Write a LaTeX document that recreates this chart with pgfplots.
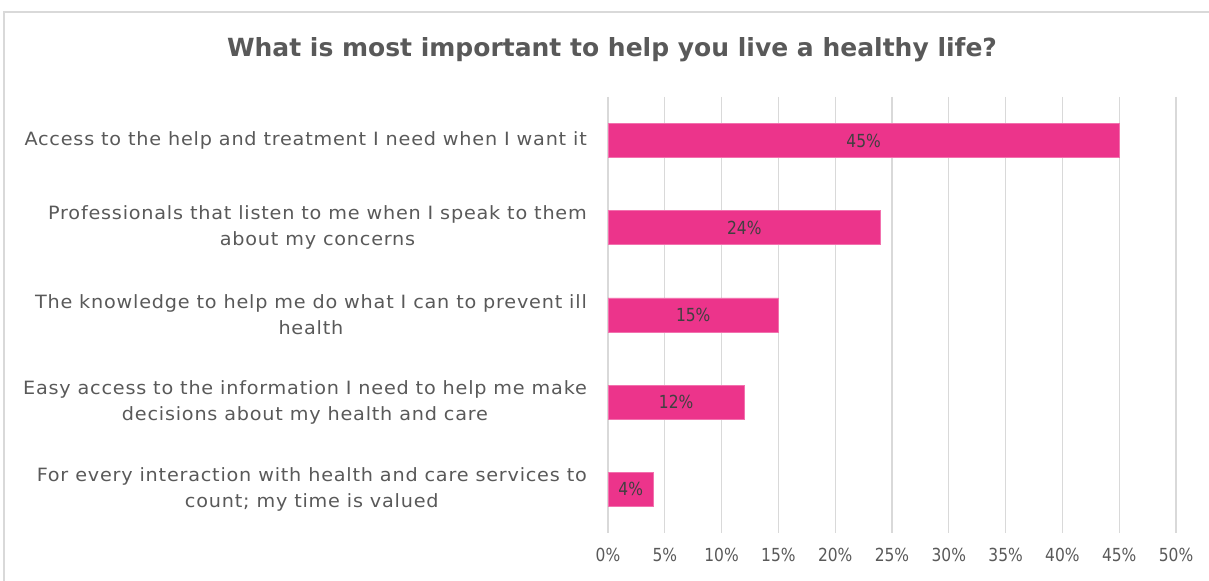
\documentclass[border=0pt]{standalone}
\usepackage{pgfplots}
\usepackage{pgfplotstable}
\pgfplotsset{compat=1.18}
\usepackage{fontspec}
\setmainfont{DejaVu Sans}
\newfontfamily\labelfont[LetterSpace=4.3,FakeStretch=1.05]{DejaVu Sans}
\newfontfamily\tickfont[FakeStretch=0.86]{DejaVu Sans}
\definecolor{barpink}{RGB}{236,52,139}
\definecolor{txtgray}{RGB}{89,89,89}
\definecolor{valgray}{RGB}{64,64,64}
\definecolor{gridgray}{RGB}{217,217,217}
\pgfplotstableread{
y v
0 45
1 24
2 15
3 12
4 4
}\datatable
\begin{document}
\begin{tikzpicture}[x=1bp,y=1bp]
\path[use as bounding box] (0,0) rectangle (1209,581);
\draw[gridgray, line width=1.5bp] (4,0) -- (4,569) -- (1209,569);
\node[txtgray, font=\fontsize{25bp}{29bp}\selectfont\bfseries] at (612,531) {What is most important to help you live a healthy life?};
\begin{axis}[at={(608bp,48bp)}, anchor=south west, scale only axis,
  width=568bp, height=436bp,
  /pgf/number format/assume math mode=true,
  xmin=0, xmax=50, ymin=-0.5, ymax=4.5, y dir=reverse,
  xtick={0,5,...,50}, ytick={0,...,4},
  xmajorgrids, grid style={gridgray, line width=1.3bp},
  axis line style={draw=none}, major tick length=0,
  xticklabel={\pgfmathprintnumber{\tick}\%},
  xticklabel style={txtgray, font=\tickfont\fontsize{18bp}{20bp}\selectfont, yshift=-12bp},
  yticklabels={{Access to the help and treatment I need when I want it},
    {Professionals that listen to me when I speak to them\\about my concerns},
    {The knowledge to help me do what I can to prevent ill\\health},
    {Easy access to the information I need to help me make\\decisions about my health and care},
    {For every interaction with health and care services to\\count; my time is valued}},
  yticklabel style={align=center, txtgray, font=\labelfont\fontsize{18.3bp}{26bp}\selectfont, inner sep=0pt, xshift=-21bp},
]
\addplot[xbar, bar width=34bp, fill=barpink, draw=barpink!70!white, line width=0.8bp] table[x=v, y=y] {\datatable};
\addplot[only marks, mark=none, nodes near coords={\pgfmathprintnumber{\pgfplotspointmeta}\%}, point meta=explicit,
  every node near coord/.style={anchor=center, valgray, font=\tickfont\fontsize{18bp}{20bp}\selectfont}]
  table[x expr=\thisrow{v}/2, y=y, meta=v] {\datatable};
\end{axis}
\end{tikzpicture}
\end{document}
